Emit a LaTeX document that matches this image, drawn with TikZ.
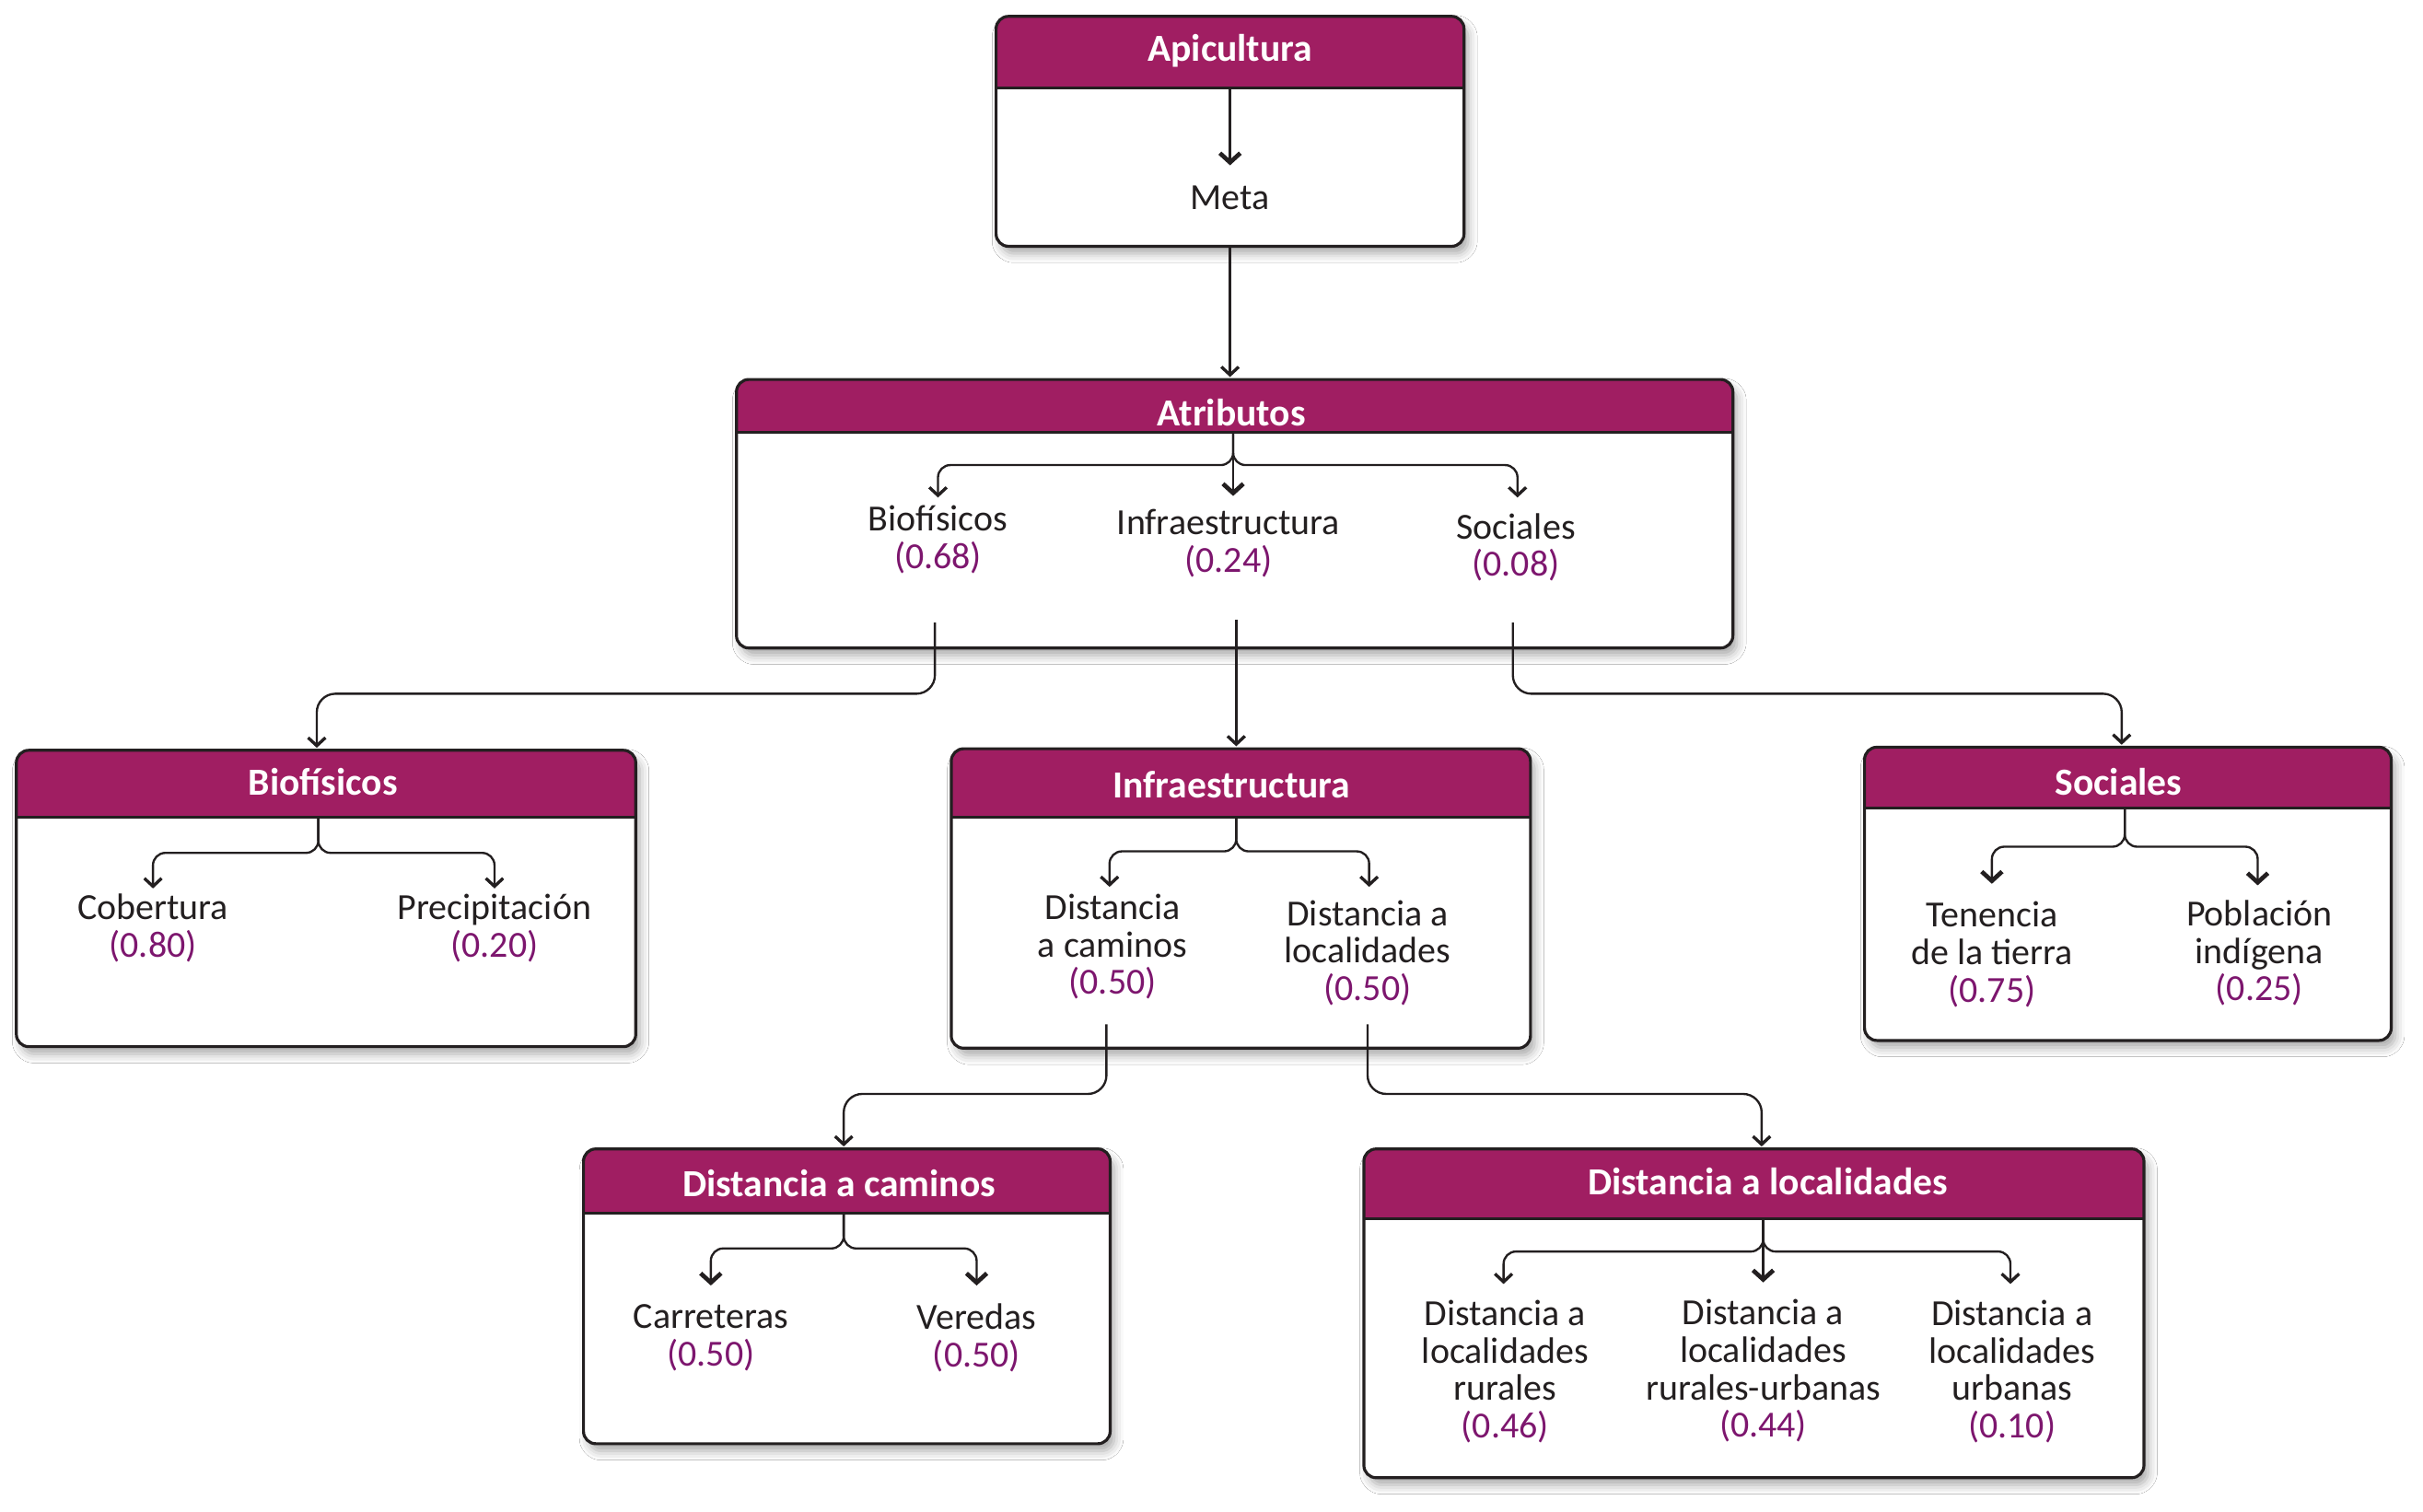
\documentclass[tikz,border=0pt]{standalone}
\usepackage{fontspec}
\setmainfont{Carlito}
\usetikzlibrary{arrows.meta,shadows.blur,fit,calc}
\definecolor{hdr}{RGB}{160,30,98}
\definecolor{val}{RGB}{125,22,110}
\definecolor{ink}{RGB}{35,31,32}
\tikzset{
 boxbg/.style={fill=white, inner sep=0pt, rounded corners=4pt,
   blur shadow={shadow xshift=1.5pt, shadow yshift=-2.5pt, shadow blur radius=3pt, shadow opacity=35}},
 boxline/.style={draw=ink, line width=0.95pt},
 ttl/.style={text=white, font=\fontsize{12.4}{14}\selectfont\bfseries, inner sep=0pt, yshift=-0.9pt},
 lbl/.style={text=ink, font=\fontsize{11.9}{12.1}\selectfont, align=center, inner sep=0pt, yshift=-0.9pt},
 conn/.style={draw=ink, line width=0.7pt, -{Straight Barb[length=2.6pt,width=5.6pt,line width=1pt]}, rounded corners=4pt},
 boldconn/.style={conn, -{Straight Barb[length=3pt,width=6.6pt,line width=1.4pt]}},
 bigconn/.style={conn, rounded corners=6pt, shorten >=0.8pt},
}
% name, x1, y1, x2, y2, yh, title, title x, title y
\newcommand\catbox[9]{%
 \node[boxbg, fit={(#2,#3) (#4,#5)}] (#1) {};
 \begin{scope}
  \clip[rounded corners=4pt] (#1.north west) rectangle (#1.south east);
  \fill[hdr] (#1.north west) rectangle (#4,#6);
 \end{scope}
 \draw[boxline] (#2,#6) -- (#4,#6);
 \draw[boxline, rounded corners=4pt] (#1.north west) rectangle (#1.south east);
 \node[ttl] (#1T) at (#8,#9) {#7};
}
\begin{document}
\begin{tikzpicture}[x=0.5pt,y=-0.5pt]
\fill[white] (0,0) rectangle (1568,978);
\useasboundingbox (0,0) rectangle (1568,978);

\catbox{api}{645}{11}{947}{159}{57}{Apicultura}{796}{31}
\catbox{atr}{477}{246}{1121}{419}{280}{Atributos}{797}{265}
\catbox{bio}{11}{486}{411}{677}{529}{Biofísicos}{209}{504}
\catbox{inf}{616}{485}{990}{678}{529}{Infraestructura}{797}{506}
\catbox{soc}{1207}{484}{1547}{673}{523}{Sociales}{1371}{504}
\catbox{cam}{378}{744}{718}{934}{785}{Distancia a caminos}{543}{764}
\catbox{loc}{883}{744}{1387}{956}{789}{Distancia a localidades}{1144}{763}

% labels
\node[lbl] (meta) at (796,126) {Meta};
\node[lbl] (aBio) at (607,347.5) {Biofísicos\\\textcolor{val}{(0.68)}};
\node[lbl] (aInf) at (795,350) {Infraestructura\\\textcolor{val}{(0.24)}};
\node[lbl] (aSoc) at (981,352.5) {Sociales\\\textcolor{val}{(0.08)}};
\node[lbl] (bCob) at (99,599) {Cobertura\\\textcolor{val}{(0.80)}};
\node[lbl] (bPre) at (320,599) {Precipitación\\\textcolor{val}{(0.20)}};
\node[lbl] (iCam) at (720,611) {Distancia\\a caminos\\\textcolor{val}{(0.50)}};
\node[lbl] (iLoc) at (885,615) {Distancia a\\localidades\\\textcolor{val}{(0.50)}};
\node[lbl] (sTen) at (1289,616) {Tenencia\\de la tierra\\\textcolor{val}{(0.75)}};
\node[lbl] (sPob) at (1462,615) {Población\\indígena\\\textcolor{val}{(0.25)}};
\node[lbl] (cCar) at (460,864) {Carreteras\\\textcolor{val}{(0.50)}};
\node[lbl] (cVer) at (632,864) {Veredas\\\textcolor{val}{(0.50)}};
\node[lbl] (lRur) at (974,886) {Distancia a\\localidades\\rurales\\\textcolor{val}{(0.46)}};
\node[lbl] (lRU) at (1141,885.5) {Distancia a\\localidades\\rurales-urbanas\\\textcolor{val}{(0.44)}};
\node[lbl] (lUrb) at (1302,886) {Distancia a\\localidades\\urbanas\\\textcolor{val}{(0.10)}};

% header-bottom points (fork roots)
\coordinate (apiH) at (796,57);
\coordinate (atrH) at (798,280);
\coordinate (bioH) at (206,529);
\coordinate (infH) at (800,529);
\coordinate (socH) at (1375,523);
\coordinate (camH) at (546,785);
\coordinate (locH) at (1141,789);

% fork inside Apicultura
\draw[boldconn] (apiH) -- (796,107);
% fork inside Atributos
\draw[conn] (atrH) -- (798,301) -- (607,301) -- (607,322);
\draw[boldconn] (atrH) -- (798,321);
\draw[conn] (atrH) -- (798,301) -- (982,301) -- (982,322);
% Biofisicos
\draw[conn] (bioH) -- (206,552) -- (99,552) -- (99,575);
\draw[conn] (bioH) -- (206,552) -- (320,552) -- (320,575);
% Infraestructura
\draw[conn] (infH) -- (800,551) -- (718,551) -- (718,574);
\draw[conn] (infH) -- (800,551) -- (886,551) -- (886,574);
% Sociales
\draw[boldconn] (socH) -- (1375,548) -- (1289,548) -- (1289,572);
\draw[boldconn] (socH) -- (1375,548) -- (1461,548) -- (1461,573);
% Distancia a caminos
\draw[boldconn] (camH) -- (546,808) -- (460,808) -- (460,832);
\draw[boldconn] (camH) -- (546,808) -- (632,808) -- (632,832);
% Distancia a localidades
\draw[conn] (locH) -- (1141,810) -- (973,810) -- (973,831);
\draw[boldconn] (locH) -- (1141,830);
\draw[conn] (locH) -- (1141,810) -- (1301,810) -- (1301,831);

% connectors between boxes
\coordinate (sBio) at (605,403);
\coordinate (sInf) at (800,401);
\coordinate (sSoc) at (979,403);
\coordinate (sCam) at (716,663);
\coordinate (sLoc) at (885,663);
\coordinate (kBio) at (205,449);
\coordinate (kSoc) at (1373,449);
\coordinate (kCam) at (546,708);
\coordinate (kLoc) at (1140,708);

\draw[bigconn] (api.south) -- (api.south |- atr.north);
\draw[bigconn] (sBio) |- (kBio) -- (kBio |- bio.north);
\draw[bigconn] (sInf) -- (sInf |- inf.north);
\draw[bigconn] (sSoc) |- (kSoc) -- (kSoc |- soc.north);
\draw[bigconn] (sCam) |- (kCam) -- (kCam |- cam.north);
\draw[bigconn] (sLoc) |- (kLoc) -- (kLoc |- loc.north);
\end{tikzpicture}
\end{document}
